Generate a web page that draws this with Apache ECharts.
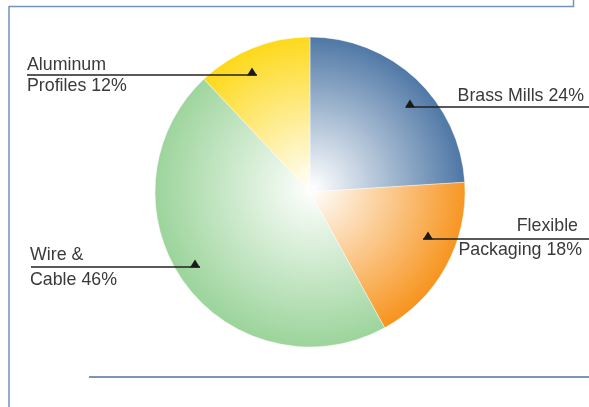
<!DOCTYPE html>
<html>
<head>
<meta charset="utf-8">
<script src="https://cdn.jsdelivr.net/npm/echarts@6/dist/echarts.min.js"></script>
<style>
  html, body { margin: 0; padding: 0; background: #ffffff; }
  #chart { width: 589px; height: 407px; }
</style>
</head>
<body>
<div id="chart"></div>
<script>
// Market share by end use
const categories = ['Brass Mills', 'Flexible Packaging', 'Wire & Cable', 'Aluminum Profiles'];
const values = [24, 18, 46, 12];
const sliceColors = ['#4a74a3', '#f7941e', '#9ed59d', '#fdd816'];
// how many words of each label sit above the leader rule
const wordsAbove = [3, 1, 2, 1];

// leader layout: marker point, rule extent, text anchors above / below the rule
const leaders = [
  { mx: 410, my: 107, x1: 406, x2: 589, align: 'right', txAbove: 584, txBelow: 584, yAbove: 96, yBelow: null },
  { mx: 428, my: 239, x1: 423, x2: 589, align: 'right', txAbove: 578, txBelow: 582, yAbove: 226, yBelow: 250 },
  { mx: 195, my: 267, x1: 31, x2: 200, align: 'left', txAbove: 30, txBelow: 30, yAbove: 255, yBelow: 280 },
  { mx: 252, my: 75, x1: 27, x2: 257, align: 'left', txAbove: 27, txBelow: 27, yAbove: 65, yBelow: 86 }
];

const CX = 310, CY = 192, R = 155;
const FONT = '17.8px "Liberation Sans", Arial, sans-serif';

const chart = echarts.init(document.getElementById('chart'), null, { renderer: 'canvas' });

const pieData = categories.map((name, i) => ({
  name: name,
  value: values[i],
  itemStyle: {
    color: new echarts.graphic.RadialGradient(CX + 3, CY - 4, R, [
      { offset: 0, color: '#ffffff' },
      { offset: 1, color: sliceColors[i] }
    ], true)
  }
}));

const graphics = [];
// frame
const frameColor = '#7391ba';
graphics.push({ type: 'line', shape: { x1: 9, y1: 6, x2: 9, y2: 407 }, style: { stroke: frameColor, lineWidth: 1.5 }, silent: true });
graphics.push({ type: 'line', shape: { x1: 9, y1: 6.5, x2: 574, y2: 6.5 }, style: { stroke: frameColor, lineWidth: 1.5 }, silent: true });
graphics.push({ type: 'line', shape: { x1: 573.5, y1: 0, x2: 573.5, y2: 7 }, style: { stroke: frameColor, lineWidth: 1.5 }, silent: true });
graphics.push({ type: 'line', shape: { x1: 89, y1: 377, x2: 589, y2: 377 }, style: { stroke: '#7a95b8', lineWidth: 2 }, silent: true });

// leaders and labels
categories.forEach((name, i) => {
  const L = leaders[i];
  const words = (name + ' ' + values[i] + '%').split(' ');
  const above = words.slice(0, wordsAbove[i]).join(' ');
  const below = words.slice(wordsAbove[i]).join(' ');
  graphics.push({ type: 'line', z: 10, shape: { x1: L.x1, y1: L.my, x2: L.x2, y2: L.my }, style: { stroke: '#222222', lineWidth: 1.4 }, silent: true });
  graphics.push({ type: 'polygon', z: 11, shape: { points: [[L.mx - 5, L.my + 0.5], [L.mx + 5, L.my + 0.5], [L.mx, L.my - 7.5]] }, style: { fill: '#1a1a1a' }, silent: true });
  graphics.push({ type: 'text', z: 12, x: L.txAbove, y: L.yAbove, style: { text: above, fill: '#3a3a3a', font: FONT, align: L.align, verticalAlign: 'middle' }, silent: true });
  if (below) {
    graphics.push({ type: 'text', z: 12, x: L.txBelow, y: L.yBelow, style: { text: below, fill: '#3a3a3a', font: FONT, align: L.align, verticalAlign: 'middle' }, silent: true });
  }
});

chart.setOption({
  animation: false,
  series: [{
    type: 'pie',
    center: [CX, CY],
    radius: R,
    startAngle: 90,
    clockwise: true,
    label: { show: false },
    labelLine: { show: false },
    itemStyle: { borderColor: 'rgba(255,255,255,0.5)', borderWidth: 0.8 },
    emphasis: { disabled: true },
    data: pieData
  }],
  graphic: graphics
});
</script>
</body>
</html>
